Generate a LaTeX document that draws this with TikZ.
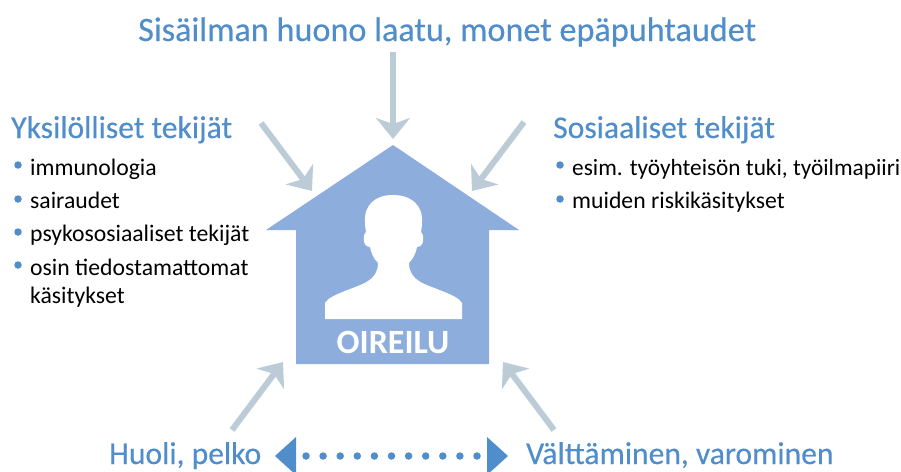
\documentclass[tikz,border=0pt]{standalone}
\usepackage{fontspec}
\setmainfont{Carlito}
\newfontfamily\headfont[FakeBold=0.35]{Carlito}
\usetikzlibrary{arrows.meta}
\definecolor{headc}{HTML}{4F8DCB}
\definecolor{housec}{HTML}{8DADDC}
\definecolor{arrowc}{HTML}{BCCCD6}
\tikzset{
  title/.style={anchor=base west,inner sep=0pt,text=headc,font=\headfont\fontsize{34.2}{34}\selectfont},
  sub/.style={anchor=base west,inner sep=0pt,text=headc,font=\headfont\fontsize{31.6}{33}\selectfont},
  item/.style={anchor=base west,inner sep=0pt,text=black,font=\fontsize{23.7}{24}\selectfont},
  bull/.style={circle,fill=headc,inner sep=0pt,minimum size=7.5pt},
  flow/.style={draw=arrowc,line width=6pt,-{Stealth[length=21pt,width=34pt,inset=6pt]}},
}
\begin{document}
\begin{tikzpicture}[x=1pt,y=-1pt]
\useasboundingbox (0,0) rectangle (901,471);
% house
\fill[housec] (393,145) -- (519,230) -- (489,230) -- (489,364) -- (296,364) -- (296,230) -- (266,230) -- cycle;
% person
\fill[white] (325,319) -- (325,303)
  .. controls (328,298) and (335,295) .. (345,291)
  .. controls (362,284) and (378,281) .. (378,263)
  .. controls (373,258) and (371,252) .. (370,247)
  .. controls (363,247) and (362,236) .. (366,232)
  .. controls (366,230) and (365,228) .. (365,222)
  .. controls (364,205) and (375,195) .. (393,195)
  .. controls (411,195) and (423,205) .. (422,222)
  .. controls (422,228) and (421,230) .. (421,232)
  .. controls (425,236) and (424,247) .. (417,247)
  .. controls (416,252) and (414,258) .. (409,263)
  .. controls (409,281) and (425,284) .. (442,291)
  .. controls (452,295) and (459,298) .. (462,303)
  -- (462,319) -- cycle;
\node[anchor=base,inner sep=0pt,text=white,font=\fontsize{34}{34}\selectfont\bfseries] (oireilu) at (393,353) {OIREILU};
% texts
\node[title] (main) at (138,41) {Sisäilman huono laatu, monet epäpuhtaudet};
\node[sub] (yks) at (11,138) {Yksilölliset tekijät};
\node[sub] (sos) at (553,138) {Sosiaaliset tekijät};
\node[sub] (huoli) at (109,464) {Huoli, pelko};
\node[sub] (valt) at (526,464) {Välttäminen, varominen};
\node[item] (i1) at (30,175) {immunologia};
\node[item] (i2) at (30,208) {sairaudet};
\node[item] (i3) at (30,241) {psykososiaaliset tekijät};
\node[item] (i4) at (30,275) {osin tiedostamattomat};
\node[item] (i5) at (30,303) {käsitykset};
\node[item,font=\fontsize{23.3}{24}\selectfont] (j1) at (572,175) {esim. työyhteisön tuki, työilmapiiri};
\node[item] (j2) at (572,208) {muiden riskikäsitykset};
\node[bull] (b1) at (18,165) {};
\node[bull] (b2) at (18,199) {};
\node[bull] (b3) at (18,232) {};
\node[bull] (b4) at (18,265) {};
\node[bull] (b5) at (560,165) {};
\node[bull] (b6) at (560,199) {};
% arrows
\coordinate (a1s) at (393,52); \coordinate (a1e) at (393,139);
\coordinate (a2s) at (261,123); \coordinate (a2e) at (312,191);
\coordinate (a3s) at (524,122); \coordinate (a3e) at (472,191);
\coordinate (a4s) at (232,430); \coordinate (a4e) at (283,362);
\coordinate (a5s) at (554,430); \coordinate (a5e) at (503,362);
\draw[flow] (a1s) -- (a1e);
\draw[flow] (a2s) -- (a2e);
\draw[flow] (a3s) -- (a3e);
\draw[flow] (a4s) -- (a4e);
\draw[flow] (a5s) -- (a5e);
% double arrow
\fill[headc] (275,456) -- (296,437) -- (296,475) -- cycle;
\fill[headc] (508,456) -- (487,437) -- (487,475) -- cycle;
\coordinate (d1) at (306,456); \coordinate (d2) at (478,456);
\draw[headc,line width=7.5pt,line cap=round,dash pattern=on 0pt off 17.1pt] (d1) -- (d2);
\end{tikzpicture}
\end{document}
